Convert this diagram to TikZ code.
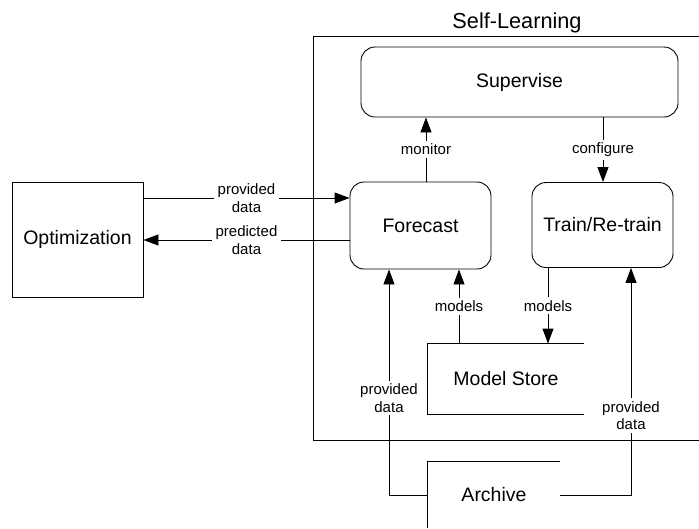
\documentclass[tikz,border=0pt]{standalone}
\usepackage{fontspec}
\setmainfont{Liberation Sans}
\usetikzlibrary{arrows.meta}

\begin{document}
\begin{tikzpicture}[x=1pt,y=-1pt,
  line width=0.9pt,
  box/.style={draw, rectangle, inner sep=0pt},
  rbox/.style={draw, rectangle, rounded corners=14pt, inner sep=0pt},
  boxtext/.style={font=\fontsize{19.5}{22}\selectfont},
  lbl/.style={fill=white, inner xsep=4pt, inner ysep=3pt, align=center, font=\fontsize{15}{17.5}\selectfont},
  arr/.style={-{Triangle[length=15pt,width=11pt]}},
]
\useasboundingbox (0,0) rectangle (699,528);

% Self-Learning frame (runs off the right edge)
\draw (699,36) -- (313,36) -- (313,440) -- (699,440);
\node[anchor=base, font=\fontsize{21.7}{24}\selectfont] (title) at (517,28) {Self-Learning};

% process boxes
\node[rbox, boxtext, minimum width=317pt, minimum height=70pt] (sup) at (519.5,82) {Supervise};
\node[rbox, boxtext, minimum width=141pt, minimum height=87pt] (fc) at (420.5,225.5) {Forecast};
\node[rbox, boxtext, minimum width=141pt, minimum height=85pt] (tr) at (602.5,225) {Train/Re-train};
\node[box, boxtext, minimum width=131pt, minimum height=115pt] (opt) at (77.5,239.5) {Optimization};

% data stores (open on one side)
\node[boxtext, minimum width=156pt, minimum height=70pt, inner sep=0pt] (ms) at (506,379) {Model Store};
\draw (ms.north east) -- (ms.north west) -- (ms.south west) -- (ms.south east);
\node[boxtext, minimum width=132pt, minimum height=66pt, inner sep=0pt] (arch) at (494,495) {Archive};
\draw (arch.north east) -- (arch.north west) -- (arch.south west);

% connectors
\draw[arr] (opt.east |- 0,198) -- node[lbl]{provided\\data} (fc.west |- 0,198);
\draw[arr] (fc.west |- 0,240) -- node[lbl]{predicted\\data} (opt.east |- 0,240);
\draw[arr] (fc.north -| 426,0) -- node[lbl]{monitor} (sup.south -| 426,0);
\draw[arr] (sup.south -| 603,0) -- node[lbl]{configure} (tr.north -| 603,0);
\draw[arr] (ms.north -| 459,0) -- node[lbl]{models} (fc.south -| 459,0);
\draw[arr] (tr.south -| 548,0) -- node[lbl]{models} (ms.north -| 548,0);

\coordinate (al) at (389,495);
\coordinate (ar) at (631,495);
\draw[arr] (arch.west) -- (al) -- node[lbl, pos=0.43]{provided\\data} (al |- fc.south);
\draw[arr] (arch.east) -- (ar) -- node[lbl, pos=0.35]{provided\\data} (ar |- tr.south);
\end{tikzpicture}
\end{document}
